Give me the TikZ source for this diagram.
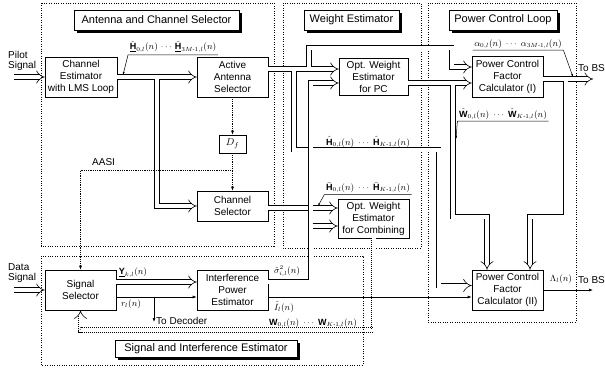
\documentclass[tikz,border=0pt]{standalone}
\usepackage{amsmath}
\usepackage{fontspec}
\setmainfont{Liberation Sans}
\usepackage{tikz}
\usetikzlibrary{arrows.meta,positioning,calc,shadows}
\definecolor{ink}{HTML}{000000}
\definecolor{paper}{HTML}{FFFFFF}
\tikzset{
  blk/.style={draw=ink,fill=paper,line width=0.6pt,minimum width=71pt,minimum height=40pt,inner sep=1pt,align=center,font=\fontsize{10}{12}\selectfont},
  ttl/.style={draw=ink,fill=paper,line width=0.6pt,minimum height=20pt,inner sep=1pt,font=\fontsize{11}{13}\selectfont,drop shadow={shadow xshift=2.5pt,shadow yshift=-2.5pt,fill=ink,opacity=1}},
  region/.style={draw=ink,line width=0.6pt,dash pattern=on 1pt off 1.4pt},
  pipe/.style={draw=ink,double=paper,double distance=4pt,line width=0.6pt,-{Implies}},
  fb/.style={pipe,dash pattern=on 1pt off 1pt},
  wire/.style={draw=ink,line width=0.6pt,-{Latex[length=4pt,width=3pt]}},
  ctl/.style={draw=ink,line width=0.6pt,dash pattern=on 0.8pt off 1pt,-{Latex[length=4pt,width=3pt]}},
  ptr/.style={draw=ink,line width=0.5pt,-{Latex[length=3pt,width=2pt]}},
  tag/.style={inner sep=1.5pt,font=\fontsize{9}{10}\selectfont},
  lbl/.style={align=left,inner sep=0pt,font=\fontsize{10}{10}\selectfont}
}

\begin{document}
\begin{tikzpicture}[x=1pt,y=-1pt]
    \useasboundingbox (0,0) rectangle (605,368);

    \draw[region] (41,3) rectangle (274,246);
    \draw[region] (283,3) rectangle (421,248);
    \draw[region] (428,3) rectangle (576,322);
    \draw[region] (41,256) rectangle (363,365);

    \node[ttl,minimum width=165pt] (ttlAnt) at (156.5,20) {Antenna and Channel Selector};
    \node[ttl,minimum width=95pt] (ttlWgt) at (351.5,20) {Weight Estimator};
    \node[ttl,minimum width=108pt] (ttlPwr) at (503,20) {Power Control Loop};
    \node[ttl,minimum width=182pt,minimum height=17pt] (ttlSig) at (206,348.5) {Signal and Interference Estimator};

    \node[blk,minimum width=72pt] (chest) at (81,77) {Channel\\Estimator\\with LMS Loop};
    \node[blk] (aas) at (232.5,77) {Active\\Antenna\\Selector};
    \node[blk,minimum width=27pt,minimum height=18pt] (df) at (232.5,144) {$D_f$};
    \node[blk,minimum height=30pt] (chsel) at (232.5,206) {Channel\\Selector};
    \node[blk,minimum width=69pt,minimum height=37pt] (optpc) at (373.5,76.5) {Opt. Weight\\Estimator\\for PC};
    \node[blk,minimum height=39pt] (optcmb) at (373.5,218.5) {Opt. Weight\\Estimator\\for Combining};
    \node[blk,minimum height=41pt] (pcfa) at (507.5,76.5) {Power Control\\Factor\\Calculator (I)};
    \node[blk] (pcfb) at (507.5,290) {Power Control\\Factor\\Calculator (II)};
    \node[blk] (sigsel) at (80.5,290) {Signal\\Selector};
    \node[blk] (ipe) at (232.5,290) {Interference\\Power\\Estimator};

    \coordinate (pilot) at (14,77);
    \coordinate (data) at (14,290);
    \coordinate (pcIn1) at ($(optpc.west)+(0,-7.5)$);
    \coordinate (pcIn2) at ($(optpc.west)+(0,6.5)$);
    \coordinate (cbIn1) at ($(optcmb.west)+(0,-10.5)$);
    \coordinate (cbIn2) at ($(optcmb.west)+(0,7.5)$);
    \coordinate (pfIn1) at ($(pcfa.west)+(0,-9.5)$);
    \coordinate (pfIn2) at ($(pcfa.west)+(0,6.5)$);
    \coordinate (pfOut) at ($(pcfa.east)+(0,2.5)$);
    \coordinate (pfbIn1) at ($(pcfb.west)+(0,-4.5)$);
    \coordinate (pfbIn2) at ($(pcfb.west)+(0,7)$);
    \coordinate (pfbTop1) at ($(pcfb.north)+(-20.5,0)$);
    \coordinate (pfbTop2) at ($(pcfb.north)+(22.5,0)$);
    \coordinate (ipeIn1) at ($(ipe.west)+(0,-8)$);
    \coordinate (ipeIn2) at ($(ipe.west)+(0,7)$);
    \coordinate (sgOut) at ($(ipe.east)+(0,-8.5)$);
    \coordinate (toBSa) at (593,79);
    \coordinate (toBSb) at (593,290);

    \draw[pipe] (pilot) -- (chest);
    \draw[pipe] (chest) -- (aas);
    \coordinate (jEst) at (157,79);
    \draw[pipe] (jEst) |- (chsel);

    \draw[pipe] (aas.east |- pcIn1) -- (pcIn1);
    \coordinate (jUp) at (309,67);
    \coordinate (upTurn) at (451.5,47.5);
    \draw[pipe] (jUp) |- (upTurn) |- (pfIn1);
    \coordinate (jDn) at (294,71);
    \coordinate (dnTurn) at (438.5,149.5);
    \draw[pipe] (jDn) |- (dnTurn) |- (pfbIn1);

    \draw[pipe] (chsel.east |- cbIn1) -- (cbIn1);
    \coordinate (sgTurn) at (310.5,83);
    \draw[pipe] (sgOut) -| (sgTurn) -- (pcIn2);
    \coordinate (jSg) at (312.5,226);
    \draw[pipe] (jSg) -- (cbIn2);

    \draw[pipe] (optpc.east |- pfIn2) -- (pfIn2);
    \coordinate (jW) at (453,85);
    \coordinate (wTurn) at (453,216.5);
    \draw[pipe] (jW) -- (wTurn) -| (pfbTop1);

    \draw[pipe] (pfOut) -- (toBSa);
    \coordinate (jA) at (565.5,81);
    \coordinate (aTurn) at (565.5,216.5);
    \draw[pipe] (jA) -- (aTurn) -| (pfbTop2);

    \draw[ctl] (aas) -- (df);
    \draw[ctl] (df) -- (chsel);
    \coordinate (jAasi) at (232.5,170);
    \draw[ctl] (jAasi) -| (sigsel);

    \draw[pipe] (data) -- (sigsel);
    \draw[pipe] (sigsel.east |- ipeIn1) -- (ipeIn1);
    \draw[wire] (sigsel.east |- ipeIn2) -- (ipeIn2);
    \coordinate (jDec) at (154,297);
    \coordinate (dec) at (154,322);
    \draw[wire] (jDec) -- (dec);
    \draw[wire] (ipe.east |- pfbIn2) -- (pfbIn2);
    \draw[wire] (pcfb) -- (toBSb);
    \coordinate (fbTurn) at (373.5,330);
    \draw[fb] (optcmb) -- (fbTurn) -| (sigsel);

    \node[lbl,anchor=west] (lblPilot) at (8,61) {Pilot\\Signal};
    \node[lbl,anchor=west] (lblData) at (8,273) {Data\\Signal};
    \node[lbl,anchor=west] (lblAasi) at (92,162) {AASI};
    \node[lbl,anchor=west] (lblDec) at (156,321) {To Decoder};
    \node[lbl,anchor=west] (lblBSa) at (578,68) {To BS};
    \node[lbl,anchor=west] (lblBSb) at (578,280) {To BS};

    \node[tag] (lblHa) at (173,47) {$\hat{\underline{\mathbf{H}}}_{0,l}(n)\,\cdots\,\hat{\underline{\mathbf{H}}}_{3M\text{-}1,l}(n)$};
    \coordinate (haTip) at (123,75);
    \draw[ptr] (lblHa.south east) -- (lblHa.south west) -- (haTip);
    \node[tag] (lblHk) at (368,142) {$\hat{\mathbf{H}}_{0,l}(n)\;\cdots\;\hat{\mathbf{H}}_{K\text{-}1,l}(n)$};
    \node[tag] (lblHb) at (368,188) {$\bar{\mathbf{H}}_{0,l}(n)\;\cdots\;\bar{\mathbf{H}}_{K\text{-}1,l}(n)$};
    \coordinate (hbTip) at (318,206);
    \draw[ptr] (lblHb.south east) -- (lblHb.south west) -- (hbTip);
    \node[tag] (lblAl) at (518,44) {$\alpha_{0,l}(n)\;\cdots\;\alpha_{3M\text{-}1,l}(n)$};
    \coordinate (alTip) at (573,77);
    \draw[ptr] (lblAl.south west) -- (lblAl.south east) -- (alTip);
    \node[tag] (lblWh) at (503,114) {$\hat{\mathbf{W}}_{0,l}(n)\;\cdots\;\hat{\mathbf{W}}_{K\text{-}1,l}(n)$};
    \coordinate (whTip) at (456,139);
    \draw[ptr] (lblWh.south east) -- (lblWh.south west) -- (whTip);
    \node[tag] (lblSg) at (287,271) {$\hat{\sigma}^2_{i,l}(n)$};
    \node[tag] (lblIh) at (284,307) {$\hat{I}_l(n)$};
    \node[tag] (lblY) at (133,273) {$\underline{\mathbf{Y}}_{k,l}(n)$};
    \node[tag] (lblR) at (131,304) {$r_l(n)$};
    \node[tag] (lblWf) at (313,323) {$\mathbf{W}_{0,l}(n)\;\cdots\;\mathbf{W}_{K\text{-}1,l}(n)$};
    \node[tag] (lblLm) at (561,279) {$\Lambda_l(n)$};
\end{tikzpicture}
\end{document}
